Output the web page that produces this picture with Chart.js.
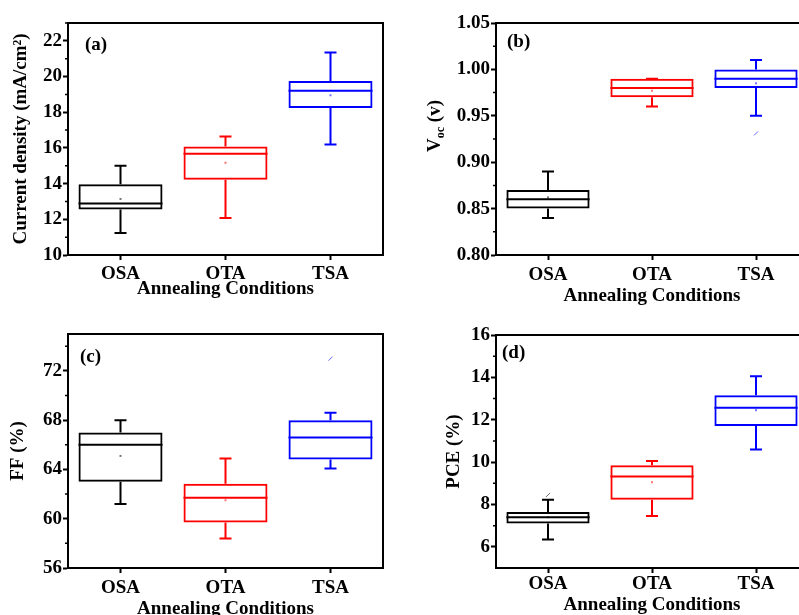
<!DOCTYPE html>
<html><head><meta charset="utf-8">
<script src="https://cdn.jsdelivr.net/npm/chart.js@4.4.0/dist/chart.umd.min.js"></script>
<style>
html,body{margin:0;padding:0;background:#fff;width:799px;height:615px;overflow:hidden;position:relative}
canvas{position:absolute;display:block}
</style></head><body>
<canvas id="ca" width="400" height="305" style="left:0;top:0"></canvas>
<canvas id="cb" width="420" height="310" style="left:400px;top:0"></canvas>
<canvas id="cc" width="400" height="330" style="left:0;top:300px"></canvas>
<canvas id="cd" width="420" height="330" style="left:400px;top:300px"></canvas>
<script>
const categories = ['OSA', 'OTA', 'TSA'];
const boxColors = ['#000000', '#ff0000', '#0000ff'];

// (a) Current density
const jscMin = [11.23, 12.08, 16.19];
const jscQ1 = [12.55, 14.22, 18.24];
const jscMedian = [12.88, 15.67, 19.21];
const jscQ3 = [13.96, 16.08, 19.75];
const jscMax = [15.0, 16.64, 21.35];
const jscMean = [13.14, 15.17, 18.95];
const jscOutliers = [[], [], []];
const jscTicks = [10, 12, 14, 16, 18, 20, 22];
const jscMinorTicks = [11, 13, 15, 17, 19, 21, 23];

// (b) Voc
const vocMin = [0.84, 0.96, 0.95];
const vocQ1 = [0.85, 0.97, 0.98];
const vocMedian = [0.86, 0.98, 0.99];
const vocQ3 = [0.87, 0.99, 1.00];
const vocMax = [0.89, 0.99, 1.01];
const vocMean = [0.862, 0.977, 0.985];
const vocOutliers = [[], [], [0.931]];
const vocTicks = [0.80, 0.85, 0.90, 0.95, 1.00, 1.05];
const vocMinorTicks = [0.825, 0.875, 0.925, 0.975, 1.025];

// (c) FF
const ffMin = [61.2, 58.4, 64.07];
const ffQ1 = [63.0, 59.7, 64.8];
const ffMedian = [66.0, 61.7, 66.6];
const ffQ3 = [67.0, 62.85, 68.0];
const ffMax = [68.0, 64.9, 68.6];
const ffMean = [65.1, 61.5, null];
const ffOutliers = [[], [], [73.0]];
const ffTicks = [56, 60, 64, 68, 72];
const ffMinorTicks = [58, 62, 66, 70, 74];

// (d) PCE
const pceMin = [6.35, 7.45, 10.6];
const pceQ1 = [7.1, 8.22, 11.7];
const pceMedian = [7.4, 9.32, 12.57];
const pceQ3 = [7.64, 9.85, 13.15];
const pceMax = [8.22, 10.05, 14.05];
const pceMean = [7.4, 9.05, 12.45];
const pceOutliers = [[8.45], [], []];
const pceTicks = [6, 8, 10, 12, 14, 16];
const pceMinorTicks = [7, 9, 11, 13, 15];

const FONT = '"Liberation Serif", "Times New Roman", serif';

function boxPlugin(o) {
  return {
    id: 'boxExtras',
    afterDatasetsDraw(chart) {
      const ctx = chart.ctx, xs = chart.scales.x, ys = chart.scales.y, a = chart.chartArea;
      const meta = chart.getDatasetMeta(0);
      ctx.save();
      categories.forEach((c, i) => {
        const x = xs.getPixelForValue(i);
        const w = meta.data[i].width;
        const col = boxColors[i];
        ctx.strokeStyle = col;
        ctx.lineWidth = 2;
        ctx.lineCap = 'butt';
        const yMed = ys.getPixelForValue(o.median[i]);
        const yQ1 = ys.getPixelForValue(o.q1[i]);
        const yQ3 = ys.getPixelForValue(o.q3[i]);
        const yMin = ys.getPixelForValue(o.min[i]);
        const yMax = ys.getPixelForValue(o.max[i]);
        ctx.beginPath();
        ctx.moveTo(x - w / 2, yMed); ctx.lineTo(x + w / 2, yMed);
        ctx.moveTo(x, yQ3); ctx.lineTo(x, yMax);
        ctx.moveTo(x - 6, yMax); ctx.lineTo(x + 6, yMax);
        ctx.moveTo(x, yQ1); ctx.lineTo(x, yMin);
        ctx.moveTo(x - 6, yMin); ctx.lineTo(x + 6, yMin);
        ctx.stroke();
        if (o.mean[i] != null) {
          const ym = ys.getPixelForValue(o.mean[i]);
          ctx.globalAlpha = 0.55;
          ctx.fillStyle = col;
          ctx.fillRect(x - 1, ym - 1, 2, 2);
          ctx.globalAlpha = 1;
        }
        o.outliers[i].forEach(v => {
          const yo = ys.getPixelForValue(v);
          ctx.globalAlpha = 0.6;
          ctx.lineWidth = 1;
          ctx.beginPath();
          ctx.moveTo(x - 2, yo + 2); ctx.lineTo(x + 2, yo - 2);
          ctx.stroke();
          ctx.globalAlpha = 1;
        });
      });
      // frame
      ctx.strokeStyle = '#000';
      ctx.lineWidth = 2;
      ctx.strokeRect(a.left, a.top, a.right - a.left, a.bottom - a.top);
      // minor ticks
      ctx.lineWidth = 1.5;
      ctx.beginPath();
      o.minor.forEach(v => {
        const y = ys.getPixelForValue(v);
        ctx.moveTo(a.left - 3, y); ctx.lineTo(a.left, y);
      });
      ctx.stroke();
      // panel label
      ctx.fillStyle = '#000';
      ctx.font = 'bold 19px ' + FONT;
      ctx.textBaseline = 'middle';
      ctx.textAlign = 'left';
      ctx.fillText(o.label, a.left + o.labelDx, a.top + o.labelDy);
      // custom y title (with subscript)
      if (o.customTitle) {
        const t = o.customTitle;
        ctx.save();
        ctx.translate(t.x, t.y);
        ctx.rotate(-Math.PI / 2);
        const big = 'bold 19px ' + FONT, small = 'bold 12px ' + FONT;
        ctx.font = big; const w1 = ctx.measureText(t.main).width; const w3 = ctx.measureText(t.tail).width;
        ctx.font = small; const w2 = ctx.measureText(t.sub).width;
        let sx = -(w1 + w2 + w3) / 2;
        ctx.textBaseline = 'alphabetic';
        ctx.font = big; ctx.fillText(t.main, sx, 6); sx += w1;
        ctx.font = small; ctx.fillText(t.sub, sx, 10); sx += w2;
        ctx.font = big; ctx.fillText(t.tail, sx, 6);
        ctx.restore();
      }
      ctx.restore();
    }
  };
}

function makePanel(id, o) {
  const fontTick = { family: FONT, size: 19, weight: 'bold' };
  return new Chart(document.getElementById(id), {
    type: 'bar',
    data: {
      labels: categories,
      datasets: [{
        data: categories.map((c, i) => [o.q1[i], o.q3[i]]),
        backgroundColor: 'rgba(0,0,0,0)',
        borderColor: boxColors,
        borderWidth: 2,
        borderSkipped: false,
        barPercentage: 0.8,
        categoryPercentage: 1
      }]
    },
    options: {
      responsive: false,
      animation: false,
      events: [],
      layout: { padding: { top: o.padTop, right: o.padRight, left: 0, bottom: 0 } },
      plugins: { legend: { display: false }, tooltip: { enabled: false } },
      scales: {
        x: {
          offset: true,
          grid: { offset: false, drawOnChartArea: false, drawTicks: true, tickLength: 5, tickWidth: 2, tickColor: '#000' },
          border: { display: true, color: '#000', width: 2 },
          ticks: { color: '#000', font: fontTick, padding: o.xTickPad, maxRotation: 0, autoSkip: false },
          title: { display: true, text: 'Annealing Conditions', color: '#000',
                   font: { family: FONT, size: 19, weight: 'bold', lineHeight: 1.2 },
                   padding: { top: 0, bottom: o.xTitlePad } },
          afterFit: s => { s.height = o.xHeight; }
        },
        y: {
          min: o.yMin, max: o.yMax,
          afterBuildTicks: s => { s.ticks = o.ticks.map(v => ({ value: v })); },
          grid: { drawOnChartArea: false, drawTicks: true, tickLength: 5, tickWidth: 2, tickColor: '#000' },
          border: { display: true, color: '#000', width: 2 },
          ticks: { color: '#000', font: fontTick, padding: 1, callback: o.fmt },
          title: o.yTitle ? { display: true, text: o.yTitle, color: '#000',
                   font: { family: FONT, size: 19, weight: 'bold', lineHeight: 1.2 },
                   padding: { top: o.yTitlePad, bottom: 0 } } : { display: false },
          afterFit: s => { s.width = o.yWidth; }
        }
      }
    },
    plugins: [boxPlugin(o)]
  });
}

makePanel('ca', {
  min: jscMin, q1: jscQ1, median: jscMedian, q3: jscQ3, max: jscMax, mean: jscMean, outliers: jscOutliers,
  ticks: jscTicks, minor: jscMinorTicks, yMin: 10, yMax: 23, fmt: v => String(v),
  padTop: 23, padRight: 17, yWidth: 68, xHeight: 50, xTickPad: 3, xTitlePad: 4.6,
  yTitle: 'Current density (mA/cm²)', yTitlePad: 9.6,
  label: '(a)', labelDx: 17, labelDy: 22
});
makePanel('cb', {
  min: vocMin, q1: vocQ1, median: vocMedian, q3: vocQ3, max: vocMax, mean: vocMean, outliers: vocOutliers,
  ticks: vocTicks, minor: vocMinorTicks, yMin: 0.80, yMax: 1.05, fmt: v => Number(v).toFixed(2),
  padTop: 23, padRight: 12, yWidth: 96, xHeight: 55, xTickPad: 4, xTitlePad: 2.6,
  yTitle: null, customTitle: { x: 34, y: 126, main: 'V', sub: 'oc', tail: ' (v)' },
  label: '(b)', labelDx: 11, labelDy: 19
});
makePanel('cc', {
  min: ffMin, q1: ffQ1, median: ffMedian, q3: ffQ3, max: ffMax, mean: ffMean, outliers: ffOutliers,
  ticks: ffTicks, minor: ffMinorTicks, yMin: 56, yMax: 75, fmt: v => String(v),
  padTop: 34, padRight: 17, yWidth: 68, xHeight: 62, xTickPad: 4, xTitlePad: 9.6,
  yTitle: 'FF (%)', yTitlePad: 6.6,
  label: '(c)', labelDx: 12, labelDy: 23
});
makePanel('cd', {
  min: pceMin, q1: pceQ1, median: pceMedian, q3: pceQ3, max: pceMax, mean: pceMean, outliers: pceOutliers,
  ticks: pceTicks, minor: pceMinorTicks, yMin: 5, yMax: 16, fmt: v => String(v),
  padTop: 35, padRight: 12, yWidth: 96, xHeight: 62, xTickPad: 0, xTitlePad: 13.6,
  yTitle: 'PCE (%)', yTitlePad: 42.6,
  label: '(d)', labelDx: 6, labelDy: 18
});
</script>
</body></html>
